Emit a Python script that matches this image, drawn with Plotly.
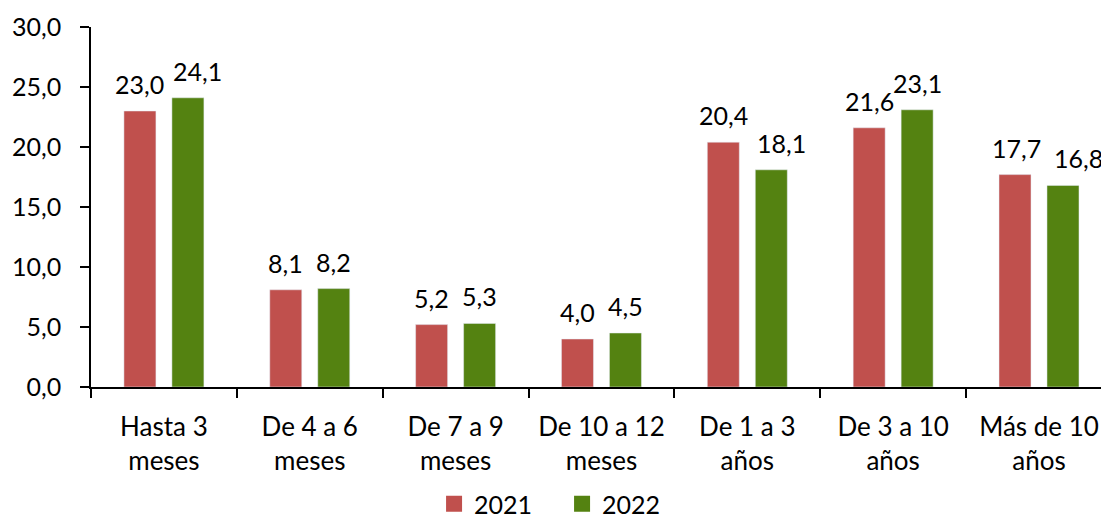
import plotly.graph_objects as go

categories = ["Hasta 3<br>meses", "De 4 a 6<br>meses", "De 7 a 9<br>meses",
              "De 10 a 12<br>meses", "De 1 a 3<br>años", "De 3 a 10<br>años",
              "Más de 10<br>años"]
values_2021 = [23.0, 8.1, 5.2, 4.0, 20.4, 21.6, 17.7]
values_2022 = [24.1, 8.2, 5.3, 4.5, 18.1, 23.1, 16.8]
y_ticks = [0, 5, 10, 15, 20, 25, 30]

RED = "#C0504D"
GREEN = "#548211"
FONT = "Lato"

# horizontal nudges (px) of a few data labels, as placed in the original
label_nudge_2021 = {6: 2}
label_nudge_2022 = {0: 10, 4: 10, 6: 16}

fig = go.Figure()
fig.add_trace(go.Bar(name="2021", x=categories, y=values_2021, marker_color=RED,
                     showlegend=False))
fig.add_trace(go.Bar(name="2022", x=categories, y=values_2022, marker_color=GREEN,
                     showlegend=False))
# legend entries with larger square swatches
for name, col in (("2021", RED), ("2022", GREEN)):
    fig.add_trace(go.Scatter(name=name, x=[None], y=[None], mode="markers",
                             marker=dict(symbol="square", size=16, color=col),
                             showlegend=True))

annotations = []
for series, shift, nudge in ((values_2021, -24, label_nudge_2021),
                             (values_2022, 24, label_nudge_2022)):
    for i, (c, v) in enumerate(zip(categories, series)):
        annotations.append(dict(
            x=c, y=v, xref="x", yref="y", text=f"{v:.1f}".replace(".", ","),
            showarrow=False, yanchor="bottom", xshift=shift + nudge.get(i, 0),
            yshift=10, font=dict(family=FONT, size=25, color="black")))

# page body has an 8px default margin; the figure runs slightly past the
# bottom of the window so the legend can sit near the very bottom edge
fig.update_layout(
    width=1101, height=519,
    margin=dict(l=83, r=0, t=19, b=140),
    paper_bgcolor="white", plot_bgcolor="white",
    barmode="group", bargap=0.342, bargroupgap=0.333,
    separators=",.",
    font=dict(family=FONT, size=25, color="black"),
    annotations=annotations,
    showlegend=True,
    legend=dict(orientation="h", x=0.337, xanchor="left",
                yref="container", y=0.0, yanchor="bottom",
                bgcolor="rgba(0,0,0,0)",
                font=dict(family=FONT, size=25), traceorder="normal",
                itemwidth=30, entrywidth=83, entrywidthmode="pixels"),
)
fig.update_xaxes(
    range=[-0.5, 6.48], showline=True, linecolor="black", linewidth=1.5,
    ticks="outside", tickson="boundaries", ticklen=9, tickcolor="black",
    tickwidth=1.5, showgrid=False, tickfont=dict(family=FONT, size=26),
    automargin=False, ticklabelstandoff=16,
)
fig.update_yaxes(
    range=[0, 30], tickvals=y_ticks, tickformat=".1f", showline=True,
    linecolor="black", linewidth=1.5, ticks="outside", ticklen=9,
    tickcolor="black", tickwidth=1.5, showgrid=False, zeroline=False,
    tickfont=dict(family=FONT, size=25), automargin=False,
    ticklabelstandoff=14,
)

fig.write_html("out.html",
               post_script="document.documentElement.style.overflow='hidden';"
                           "document.body.style.overflow='hidden';")
